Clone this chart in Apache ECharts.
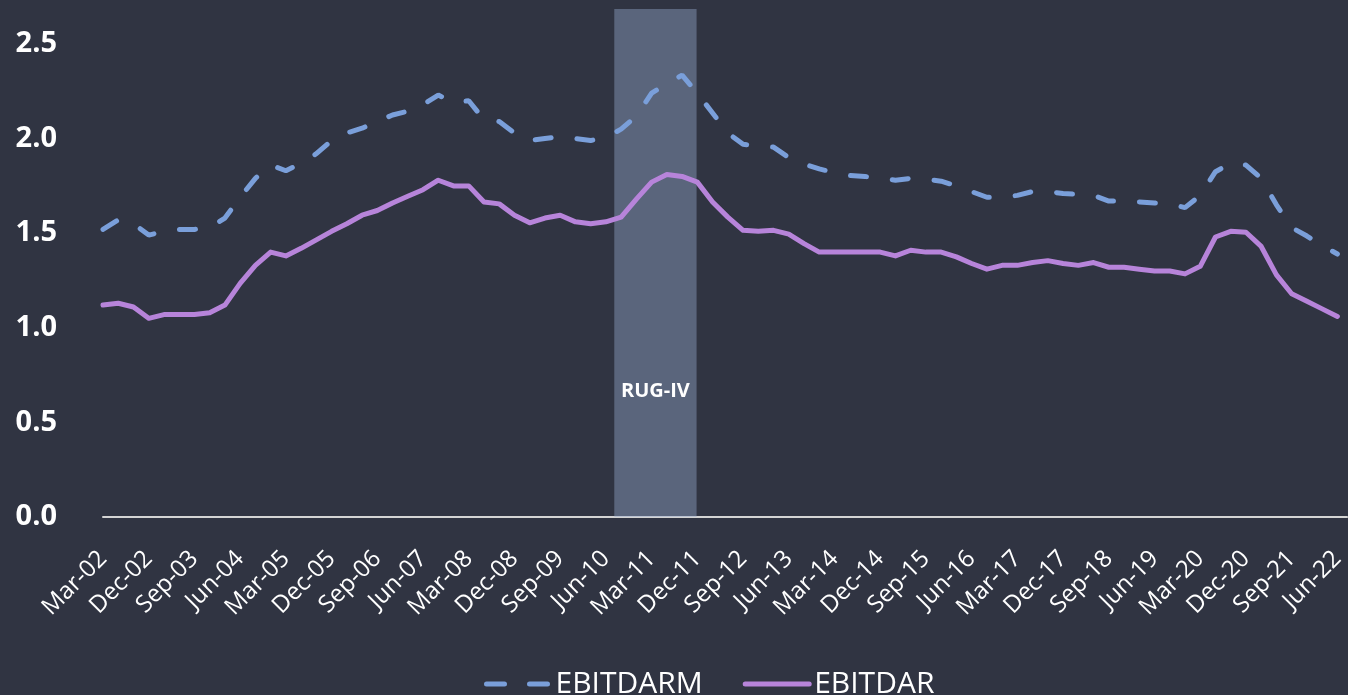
<!DOCTYPE html>
<html>
<head>
<meta charset="utf-8">
<script src="https://cdn.jsdelivr.net/npm/echarts@6/dist/echarts.min.js"></script>
<style>
  html, body { margin: 0; padding: 0; background: #303442; }
  #main { width: 1348px; height: 695px; }
</style>
</head>
<body>
<div id="main"></div>
<script>
// quarters Mar-02 .. Jun-22
var quarters = [
  'Mar-02','Jun-02','Sep-02','Dec-02','Mar-03','Jun-03','Sep-03','Dec-03',
  'Mar-04','Jun-04','Sep-04','Dec-04','Mar-05','Jun-05','Sep-05','Dec-05',
  'Mar-06','Jun-06','Sep-06','Dec-06','Mar-07','Jun-07','Sep-07','Dec-07',
  'Mar-08','Jun-08','Sep-08','Dec-08','Mar-09','Jun-09','Sep-09','Dec-09',
  'Mar-10','Jun-10','Sep-10','Dec-10','Mar-11','Jun-11','Sep-11','Dec-11',
  'Mar-12','Jun-12','Sep-12','Dec-12','Mar-13','Jun-13','Sep-13','Dec-13',
  'Mar-14','Jun-14','Sep-14','Dec-14','Mar-15','Jun-15','Sep-15','Dec-15',
  'Mar-16','Jun-16','Sep-16','Dec-16','Mar-17','Jun-17','Sep-17','Dec-17',
  'Mar-18','Jun-18','Sep-18','Dec-18','Mar-19','Jun-19','Sep-19','Dec-19',
  'Mar-20','Jun-20','Sep-20','Dec-20','Mar-21','Jun-21','Sep-21','Dec-21',
  'Mar-22','Jun-22'
];

var ebitdarm = [
  1.52, 1.57, 1.55, 1.49, 1.51, 1.52, 1.52, 1.53, 1.58, 1.69,
  1.79, 1.86, 1.83, 1.87, 1.92, 1.99, 2.03, 2.055, 2.09, 2.125,
  2.145, 2.18, 2.23, 2.19, 2.20, 2.10, 2.09, 2.03, 1.99, 2.00,
  2.01, 2.00, 1.99, 2.005, 2.05, 2.12, 2.24, 2.29, 2.335, 2.24,
  2.135, 2.03, 1.97, 1.96, 1.955, 1.90, 1.865, 1.84, 1.82, 1.805,
  1.80, 1.79, 1.78, 1.79, 1.785, 1.775, 1.75, 1.72, 1.69, 1.69,
  1.70, 1.72, 1.72, 1.71, 1.705, 1.70, 1.67, 1.67, 1.665, 1.66,
  1.655, 1.635, 1.70, 1.825, 1.87, 1.86, 1.79, 1.65, 1.53, 1.485,
  1.435, 1.39
];

var ebitdar = [
  1.12, 1.13, 1.11, 1.05, 1.07, 1.07, 1.07, 1.08, 1.12, 1.235,
  1.33, 1.40, 1.38, 1.42, 1.465, 1.51, 1.55, 1.595, 1.62, 1.66,
  1.695, 1.73, 1.78, 1.75, 1.75, 1.665, 1.655, 1.595, 1.555, 1.58,
  1.595, 1.56, 1.55, 1.56, 1.585, 1.68, 1.77, 1.81, 1.80, 1.77,
  1.665, 1.585, 1.515, 1.51, 1.515, 1.495, 1.445, 1.40, 1.40, 1.40,
  1.40, 1.40, 1.38, 1.41, 1.40, 1.40, 1.375, 1.34, 1.31, 1.33,
  1.33, 1.345, 1.355, 1.34, 1.33, 1.345, 1.32, 1.32, 1.31, 1.30,
  1.30, 1.285, 1.325, 1.48, 1.51, 1.505, 1.43, 1.28, 1.18, 1.14,
  1.10, 1.06
];

// RUG-IV period, in quarter index units
var rugBand = [33.55, 38.95];

// x is the quarter index; the axis runs a little past the last quarter
function pairs(arr) {
  return arr.map(function (v, i) { return [i, v]; });
}

var chart = echarts.init(document.getElementById('main'));

chart.setOption({
  backgroundColor: '#303442',
  textStyle: { fontFamily: 'Open Sans' },
  animation: false,
  grid: { left: 103, right: 0, top: 9, bottom: 178 },
  legend: {
    data: [
      { name: 'EBITDARM', lineStyle: { width: 5, type: [18, 25], cap: 'round' } },
      { name: 'EBITDAR', lineStyle: { width: 5, type: 'solid', cap: 'round' } }
    ],
    left: 479,
    top: 664,
    itemWidth: 64,
    itemHeight: 14,
    itemGap: 40,
    itemStyle: { opacity: 0 },
    textStyle: { color: '#ffffff', fontSize: 30 }
  },
  xAxis: {
    type: 'value',
    min: 0,
    max: 81.64,
    interval: 3,
    axisLine: { show: true, onZero: false, lineStyle: { color: '#d4d4d4', width: 2 } },
    axisTick: { show: false },
    splitLine: { show: false },
    axisLabel: {
      rotate: 45,
      color: '#ffffff',
      fontSize: 24,
      margin: 38,
      padding: [16, 0, 0, 0],
      showMaxLabel: false,
      formatter: function (v) { return quarters[v] || ''; }
    }
  },
  yAxis: {
    type: 'value',
    min: 0,
    max: 2.685,
    interval: 0.5,
    axisLine: { show: false },
    axisTick: { show: false },
    splitLine: { show: false },
    axisLabel: {
      showMaxLabel: false,
      color: '#ffffff',
      fontSize: 29,
      fontWeight: 'bold',
      margin: 46,
      formatter: function (v) { return v.toFixed(1); }
    }
  },
  series: [{
    name: 'EBITDARM',
    type: 'line',
    data: pairs(ebitdarm),
    symbol: 'none',
    color: '#7a9fda',
    lineStyle: { width: 5, type: [16, 26], cap: 'round', color: '#7a9fda' }
  }, {
    name: 'EBITDAR',
    type: 'line',
    data: pairs(ebitdar),
    symbol: 'none',
    color: '#b784da',
    lineStyle: { width: 5, cap: 'round', join: 'round', color: '#b784da' }
  }, {
    name: 'band',
    type: 'line',
    z: 5,
    symbol: 'none',
    silent: true,
    lineStyle: { opacity: 0 },
    data: [[rugBand[0], 0], [rugBand[1], 0]],
    markArea: {
      silent: true,
      itemStyle: { color: 'rgba(150,170,205,0.42)' },
      label: {
        show: true,
        position: 'inside',
        offset: [0, 128],
        color: '#ffffff',
        fontWeight: 'bold',
        fontSize: 20
      },
      data: [[{ name: 'RUG-IV', xAxis: rugBand[0] }, { xAxis: rugBand[1] }]]
    }
  }]
});
</script>
</body>
</html>
